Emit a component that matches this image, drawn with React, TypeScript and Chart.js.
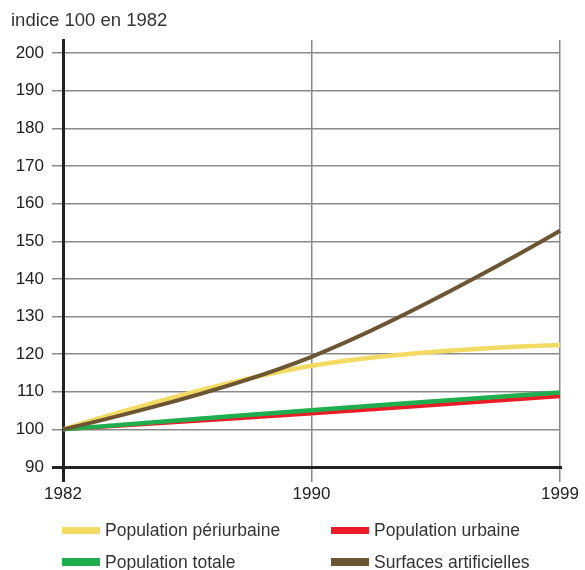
import React, { useEffect, useRef } from "react";
import { Chart, registerables } from "chart.js";

Chart.register(...registerables);

const years = ["1982", "1990", "1999"];
const periurbaine = [100, 116.9, 122.4];
const urbaine = [100, 104.2, 108.8];
const totale = [100, 105.1, 109.8];
const surfaces = [100, 119.3, 152.8];

const yTicks = [90, 100, 110, 120, 130, 140, 150, 160, 170, 180, 190, 200];

const titleText = "indice 100 en 1982";
const seriesNames = ["Population périurbaine", "Population urbaine", "Population totale", "Surfaces artificielles"];
const seriesColors = ["#F3DB63", "#EC1C26", "#1FAE4D", "#6C5533"];

const FONT = "'Liberation Sans', Arial, Helvetica, sans-serif";
const GRID = "#8a8a8a";
const DARK = "#222222";

// Makes the curve ends "free" (control point on the end point) like the reference's smoothing.
const endControlPlugin = {
  id: "endControl",
  beforeDatasetDraw(chart: any, args: any) {
    const meta = args.meta;
    const line = meta.dataset;
    if (!line || !line.updateControlPoints) return;
    line.updateControlPoints(chart.chartArea, meta.iScale ? meta.iScale.axis : "x");
    const pts = meta.data;
    if (pts.length > 1) {
      const f = pts[0];
      f.cp2x = f.x;
      f.cp2y = f.y;
      const l = pts[pts.length - 1];
      l.cp1x = l.x;
      l.cp1y = l.y;
    }
    line._path = undefined;
  },
};

export default function App() {
  const ref = useRef<HTMLCanvasElement | null>(null);

  useEffect(() => {
    if (!ref.current) return;
    const seriesVals = [periurbaine, urbaine, totale, surfaces];
    const orders = [3, 2, 1, 0];
    const widths = [4.5, 4, 4.5, 4];
    const chart = new Chart(ref.current, {
      type: "line",
      data: {
        labels: years,
        datasets: seriesVals.map((v, i) => ({
          label: seriesNames[i],
          data: v,
          borderColor: seriesColors[i],
          backgroundColor: seriesColors[i],
          borderWidth: widths[i],
          pointRadius: 0,
          tension: 0.4,
          fill: false,
          order: orders[i],
        })),
      },
      options: {
        responsive: false,
        animation: false,
        devicePixelRatio: 1,
        layout: { padding: { top: 40, right: 25, bottom: 0, left: 0 } },
        plugins: { legend: { display: false }, tooltip: { enabled: false }, title: { display: false } },
        scales: {
          x: {
            type: "category",
            offset: false,
            afterFit: (s: any) => {
              s.height = 103;
            },
            ticks: {
              autoSkip: false,
              maxRotation: 0,
              padding: 2,
              color: DARK,
              font: { family: FONT, size: 17 },
            },
            grid: {
              offset: false,
              color: (ctx: any) => (ctx.index === 0 ? DARK : GRID),
              lineWidth: (ctx: any) => (ctx.index === 0 ? 3 : 1.5),
              tickLength: 15,
              drawTicks: true,
            },
            border: { display: true, color: DARK, width: 3 },
          },
          y: {
            type: "linear",
            min: 90,
            max: 203.5,
            afterBuildTicks: (s: any) => {
              s.ticks = yTicks.map((v) => ({ value: v }));
            },
            afterFit: (s: any) => {
              s.width = 63;
            },
            ticks: {
              padding: 8,
              color: DARK,
              font: { family: FONT, size: 17 },
              callback: (v: any) => String(v),
            },
            grid: {
              color: (ctx: any) => (ctx.tick && ctx.tick.value === 90 ? DARK : GRID),
              lineWidth: (ctx: any) => (ctx.tick && ctx.tick.value === 90 ? 3 : 1.5),
              tickLength: 11,
              drawTicks: true,
            },
            border: { display: true, color: DARK, width: 3 },
          },
        },
      },
      plugins: [endControlPlugin],
    });
    return () => chart.destroy();
  }, []);

  const legendPos = [
    { left: 62, top: 530.5 },
    { left: 331, top: 530.5 },
    { left: 62, top: 562 },
    { left: 331, top: 562 },
  ];

  return (
    <div style={{ position: "absolute", left: 0, top: 0, width: 585, height: 570, background: "#fff", overflow: "hidden", fontFamily: FONT }}>
      <canvas ref={ref} width={585} height={570} style={{ position: "absolute", left: 0, top: 0, width: 585, height: 570 }} />
      <div style={{ position: "absolute", left: 11, top: 9, fontSize: 18.5, color: "#333", whiteSpace: "nowrap" }}>{titleText}</div>
      {seriesNames.map((name, i) => (
        <div
          key={name}
          style={{
            position: "absolute",
            left: legendPos[i].left,
            top: legendPos[i].top - 12,
            height: 24,
            display: "flex",
            alignItems: "center",
            whiteSpace: "nowrap",
          }}
        >
          <div style={{ width: 38, height: 7.5, background: seriesColors[i], marginRight: 5 }} />
          <span style={{ fontSize: 17.5, color: "#333" }}>{name}</span>
        </div>
      ))}
    </div>
  );
}
